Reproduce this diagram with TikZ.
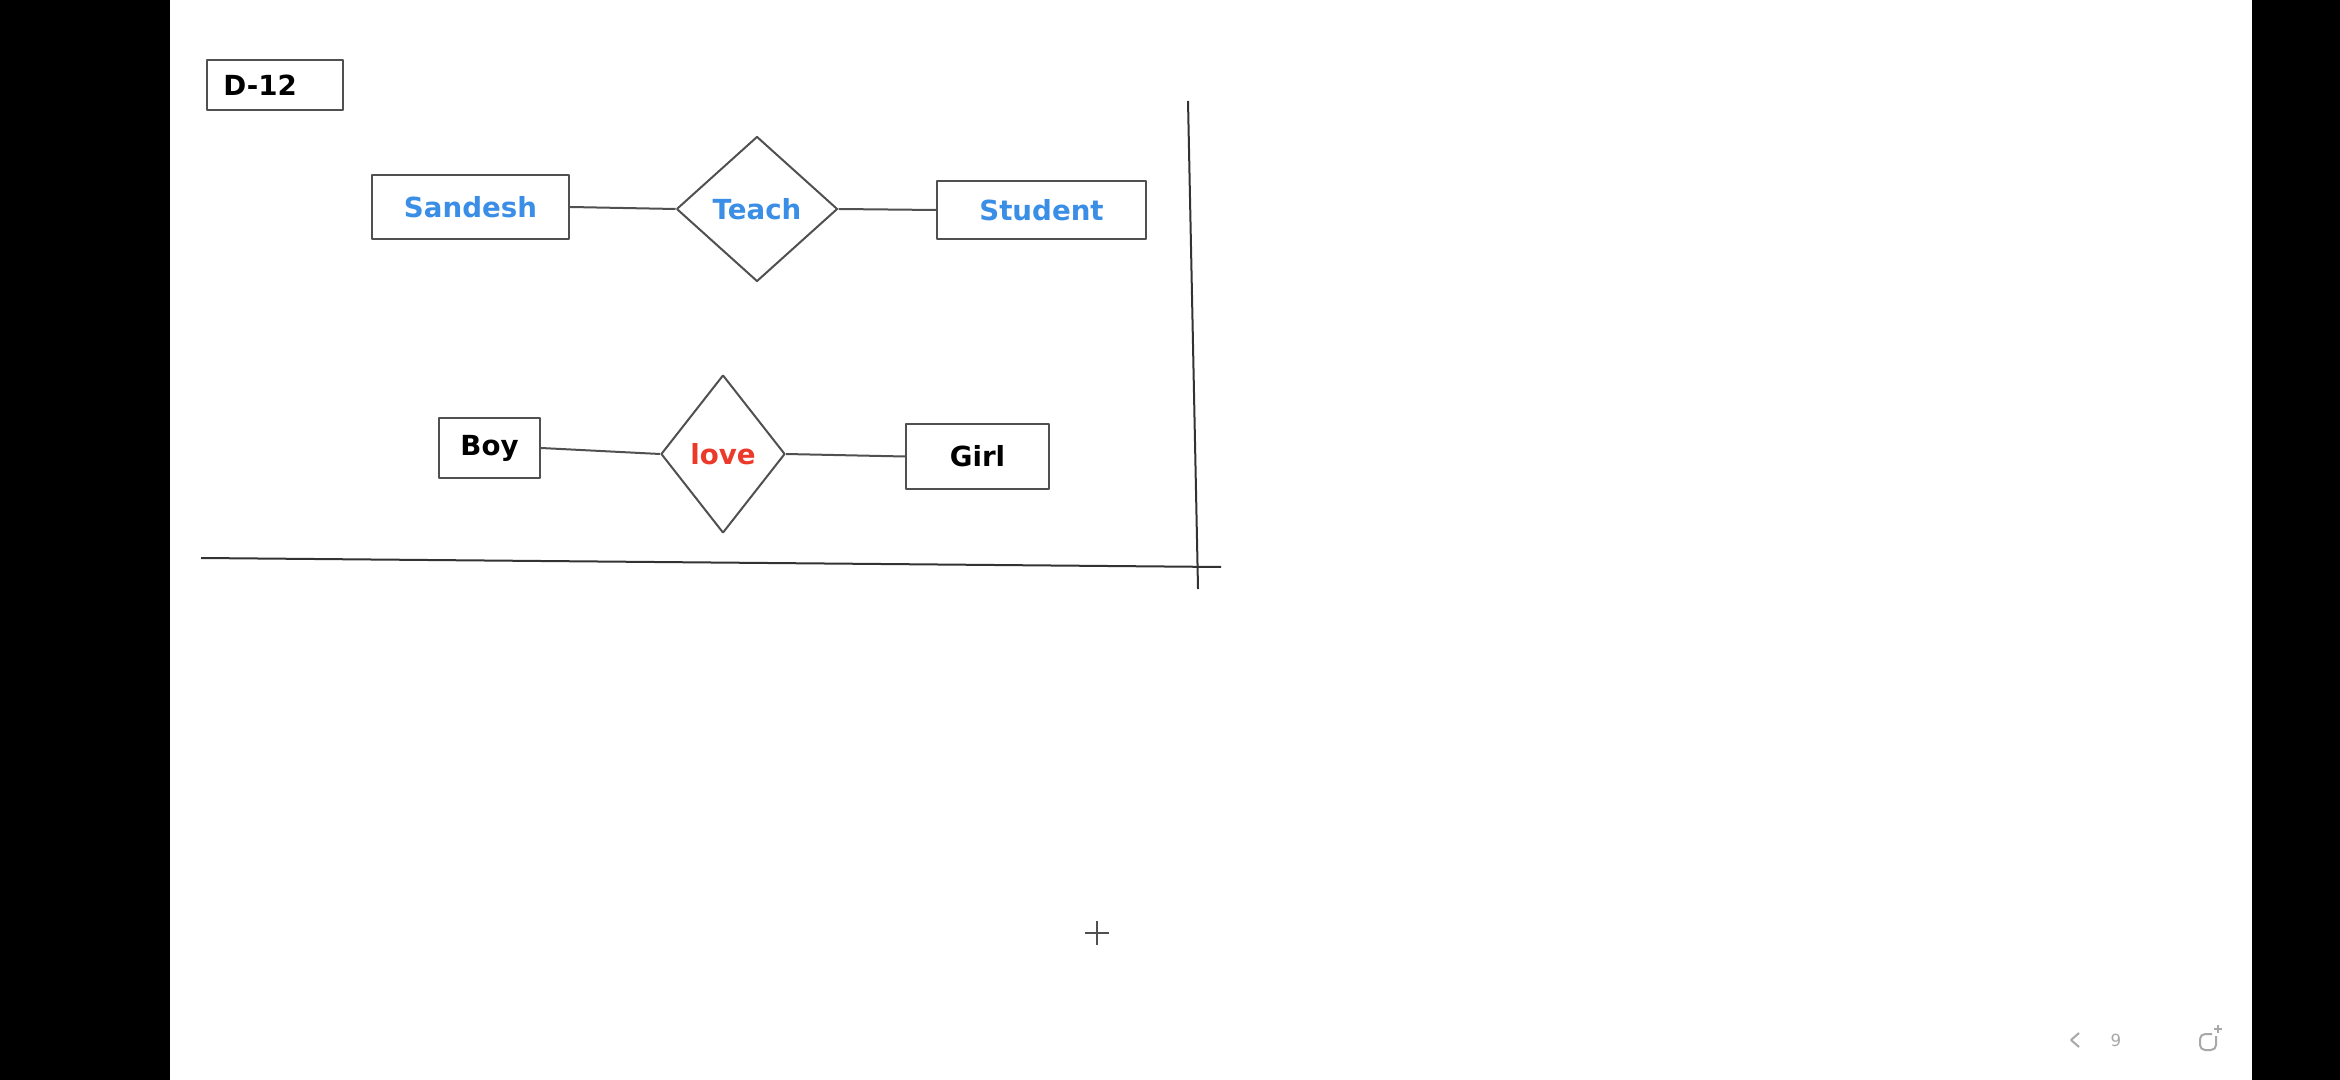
\documentclass[tikz,border=0pt]{standalone}
\usepackage{fontspec}
\setmainfont{DejaVu Sans}
\usepackage{tikz}
\usetikzlibrary{shapes.geometric}
\definecolor{strokecol}{HTML}{505050}
\definecolor{entblue}{HTML}{3A8EE6}
\definecolor{relred}{HTML}{EC3A2A}
\definecolor{navgray}{HTML}{A8A8A8}

\begin{document}
\begin{tikzpicture}[x=0.3pt,y=-0.3pt,line join=bevel,
  entity/.style={draw=strokecol,rectangle,inner sep=0pt,font=\fontsize{8.3}{10}\selectfont\bfseries},
  relation/.style={draw=strokecol,diamond,inner sep=0pt,font=\fontsize{8.3}{10}\selectfont\bfseries},
  link/.style={draw=strokecol}]
  \pgfsetlinewidth{0.6pt}
%%
  \useasboundingbox (0,0) rectangle (2340,1080);
  \fill[white] (0,0) rectangle (2340,1080);
  \fill[black] (0,0) rectangle (170,1080);
  \fill[black] (2252,0) rectangle (2340,1080);
  % Node: D-12
  \node[entity,inner xsep=4.9pt,text width=31pt,align=left,minimum height=15pt] (label) at (275,85) {D-12};
  % Node: Sandesh
  \node[entity,text=entblue,minimum width=59.1pt,minimum height=19.2pt] (sandesh) at (470.5,207) {Sandesh};
  % Node: Teach
  \node[relation,text=entblue,aspect=1.1,minimum width=48.3pt,minimum height=43.5pt] (teach) at (757,209) {Teach};
  % Node: Student
  \node[entity,text=entblue,minimum width=62.7pt,minimum height=17.4pt] (student) at (1041.5,210) {Student};
  % Node: Boy
  \node[entity,minimum width=30.3pt,minimum height=18pt] (boy) at (489.5,448) {Boy};
  % Node: love
  \node[relation,text=relred,aspect=0.8,minimum width=37.2pt,minimum height=47.4pt] (love) at (723,454) {love};
  % Node: Girl
  \node[entity,minimum width=42.9pt,minimum height=19.5pt] (girl) at (977.5,456.5) {Girl};
  % Edge: Sandesh -- Teach
  \draw[link] (sandesh.east) -- (teach.west);
  % Edge: Teach -- Student
  \draw[link] (teach.east) -- (student.west);
  % Edge: Boy -- love
  \draw[link] (boy.east) -- (love.west);
  % Edge: love -- Girl
  \draw[link] (love.east) -- (girl.west);
  % Axes
  \coordinate (xa) at (201,558);
  \coordinate (xb) at (1221,567);
  \coordinate (ya) at (1188,101);
  \coordinate (yb) at (1198,589);
  \draw[link,draw=black!80] (xa) -- (xb);
  \draw[link,draw=black!80] (ya) -- (yb);
  % Cursor
  \coordinate (cur) at (1097,933);
  \draw[strokecol,line width=0.7pt] ([xshift=-3.6pt]cur) -- ([xshift=3.6pt]cur)
    ([yshift=-3.6pt]cur) -- ([yshift=3.6pt]cur);
  % Page navigation
  \draw[navgray,line width=0.6pt] (2079,1033) -- (2071,1040) -- (2079,1047);
  \node[text=navgray,font=\fontsize{5}{6}\selectfont] (page) at (2116,1040) {9};
  \draw[navgray,line width=0.6pt,rounded corners=1.5pt] (2216,1036) -- (2216,1050) -- (2200,1050) -- (2200,1034) -- (2212,1034);
  \draw[navgray,line width=0.6pt] (2214,1029) -- (2222,1029) (2218,1025) -- (2218,1033);
%
\end{tikzpicture}
\end{document}
